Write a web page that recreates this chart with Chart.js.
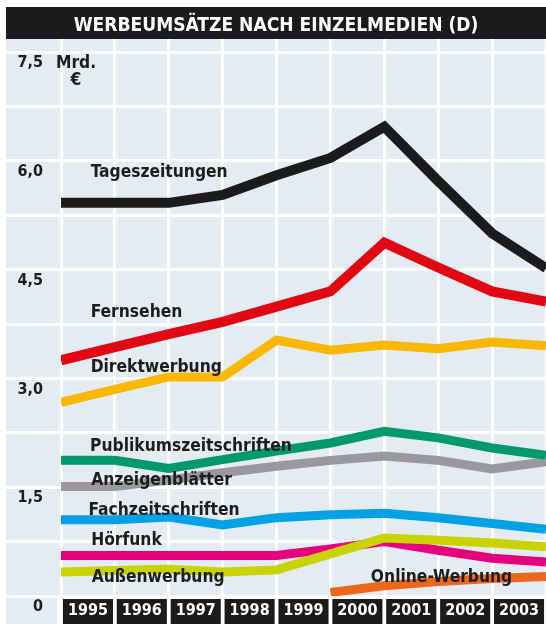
<!DOCTYPE html>
<html><head><meta charset="utf-8">
<script src="https://cdn.jsdelivr.net/npm/chart.js@4.4.1/dist/chart.umd.min.js"></script>
<style>html,body{margin:0;padding:0;background:#fff;}canvas{display:block;}</style>
</head><body>
<canvas id="c" width="546" height="624"></canvas>
<script>
// ---------- data ----------
const chartTitle = 'WERBEUMSÄTZE NACH EINZELMEDIEN (D)';
const unitLabel = ['Mrd.', '€'];
const xLabels = ['1995','1996','1997','1998','1999','2000','2001','2002','2003'];
const yTickLabels = ['0','1,5','3,0','4,5','6,0','7,5'];
const pointIndex = [0,1,2,3,4,5,6,7,8,9];

const tageszeitungen      = [5.42, 5.42, 5.42, 5.53, 5.80, 6.04, 6.47, 5.72, 5.00, 4.52];
const fernsehen           = [3.25, 3.43, 3.61, 3.78, 3.99, 4.20, 4.87, 4.53, 4.20, 4.06];
const direktwerbung       = [2.67, 2.85, 3.02, 3.02, 3.53, 3.39, 3.46, 3.41, 3.50, 3.45];
const publikumszeitschr   = [1.87, 1.87, 1.76, 1.88, 2.00, 2.11, 2.27, 2.18, 2.04, 1.94];
const anzeigenblaetter    = [1.51, 1.51, 1.60, 1.70, 1.79, 1.87, 1.93, 1.87, 1.75, 1.85];
const fachzeitschriften   = [1.05, 1.05, 1.09, 0.98, 1.08, 1.12, 1.14, 1.08, 1.00, 0.92];
const aussenwerbung       = [0.33, 0.35, 0.37, 0.33, 0.36, 0.58, 0.80, 0.77, 0.73, 0.68];
const hoerfunk            = [0.56, 0.56, 0.56, 0.56, 0.56, 0.65, 0.75, 0.63, 0.52, 0.47];
const onlineWerbung       = [null, null, null, null, null, 0.05, 0.14, 0.20, 0.24, 0.27];

const seriesNames = ['Tageszeitungen','Fernsehen','Direktwerbung','Publikumszeitschriften',
  'Anzeigenblätter','Fachzeitschriften','Außenwerbung','Hörfunk','Online-Werbung'];
const seriesValues = [tageszeitungen, fernsehen, direktwerbung, publikumszeitschr,
  anzeigenblaetter, fachzeitschriften, aussenwerbung, hoerfunk, onlineWerbung];

// ---------- styles ----------
const seriesColors = ['#1b1b1e','#e30613','#fbb800','#009a6d','#99989d','#00a2e6','#c8d300','#e5007d','#ec671c'];
const seriesWidths = [10,10,9,9,9,9,9,9,9];
// label anchors in data units: [x index, y value of text baseline]
const labelAnchors = [[0.55,5.78],[0.55,3.85],[0.55,3.09],[0.54,2.00],[0.56,1.53],[0.51,1.12],[0.57,0.19],[0.56,0.70],[5.75,0.19]];

const BG = '#e4ebf2';
const TXT = '#1d1d1b';

function hasFont(name){
  const c = document.createElement('canvas').getContext('2d');
  const s = 'abcdefghijklmnopqrstuvwxyzABCDEFGH0123456789';
  c.font = '40px monospace'; const w0 = c.measureText(s).width;
  c.font = '40px "' + name + '", monospace'; return Math.abs(c.measureText(s).width - w0) > 0.5;
}
const narrowFam = hasFont('Liberation Sans Narrow') ? '"Liberation Sans Narrow"' :
                  (hasFont('DejaVu Sans Condensed') ? '"DejaVu Sans Condensed"' : '"DejaVu Sans"');
const condFam = hasFont('DejaVu Sans Condensed') ? '"DejaVu Sans Condensed"' : '"DejaVu Sans"';
const NARROW = narrowFam + ', "DejaVu Sans Condensed", sans-serif';
const COND = condFam + ', "DejaVu Sans", sans-serif';

function fitSize(text, fam, target, maxSize){
  const c = document.createElement('canvas').getContext('2d');
  c.font = 'bold 40px ' + fam;
  return Math.min(maxSize, 40 * target / c.measureText(text).width);
}
const labelSize = fitSize('Publikumszeitschriften', NARROW, 202, 19.5);
const titleSize = fitSize(chartTitle, NARROW, 405, 23);
const titleLH = titleSize * 1.2;
const titlePadTop = 25.9 - 7 - titleLH / 2;
const titlePadBottom = 32 - titleLH - titlePadTop;

const bgPlugin = {
  id: 'bg',
  beforeDraw(chart){
    const ctx = chart.ctx;
    ctx.save();
    ctx.fillStyle = '#fff'; ctx.fillRect(0,0,chart.width,chart.height);
    const ca = chart.chartArea;
    ctx.fillStyle = BG;
    ctx.fillRect(6, 39, chart.width - 6, ca.bottom - 39);
    ctx.fillRect(6, ca.bottom, ca.left - 4 - 6, chart.height - ca.bottom);
    ctx.fillStyle = '#1b1b1e';
    ctx.fillRect(6, 7, chart.width - 6, 32);
    ctx.restore();
  }
};

const labelPlugin = {
  id: 'seriesLabels',
  afterDatasetsDraw(chart){
    const ctx = chart.ctx, xs = chart.scales.x, ys = chart.scales.y;
    ctx.save();
    ctx.fillStyle = TXT;
    ctx.textBaseline = 'alphabetic';
    ctx.textAlign = 'left';
    ctx.font = 'bold ' + labelSize.toFixed(2) + 'px ' + NARROW;
    seriesNames.forEach((n, i) => {
      const a = labelAnchors[i];
      ctx.fillText(n, xs.getPixelForValue(a[0]), ys.getPixelForValue(a[1]));
    });
    // unit label
    ctx.textAlign = 'center';
    ctx.font = 'bold ' + labelSize.toFixed(2) + 'px ' + NARROW;
    const ux = xs.getPixelForValue(0) + 15;
    const top = ys.getPixelForValue(7.5);
    ctx.fillText(unitLabel[0], ux, top + 16);
    ctx.fillText(unitLabel[1], ux, top + 33);
    ctx.restore();
  }
};

const datasets = seriesNames.map((n, i) => ({
  label: n,
  data: pointIndex.map((x, k) => ({x: x, y: seriesValues[i][k]})).filter(p => p.y !== null),
  borderColor: seriesColors[i],
  backgroundColor: seriesColors[i],
  borderWidth: seriesWidths[i],
  borderJoinStyle: 'miter',
  borderCapStyle: 'butt',
  pointRadius: 0,
  tension: 0,
  fill: false,
  xAxisID: 'x',
  yAxisID: 'y'
}));

new Chart(document.getElementById('c'), {
  type: 'line',
  data: { datasets },
  plugins: [bgPlugin, labelPlugin],
  options: {
    responsive: false,
    animation: false,
    devicePixelRatio: 1,
    events: [],
    layout: { padding: { left: 6, top: 7, right: 0, bottom: 0 } },
    plugins: {
      legend: { display: false },
      tooltip: { enabled: false },
      title: {
        display: true, text: chartTitle, color: '#ffffff',
        font: { family: NARROW, size: titleSize, weight: 'bold', lineHeight: 1.2 },
        padding: { top: titlePadTop, bottom: titlePadBottom }
      }
    },
    scales: {
      x: {
        type: 'linear', position: 'top', min: 0, max: 9,
        ticks: { display: false, stepSize: 1 },
        grid: { color: '#ffffff', lineWidth: 3, drawTicks: true, tickLength: 13, tickColor: '#ffffff', tickWidth: 3 },
        border: { display: false }
      },
      x2: {
        type: 'category', position: 'bottom', labels: xLabels, offset: true,
        grid: { display: false, drawTicks: false },
        border: { display: false },
        ticks: {
          color: '#ffffff', padding: 5.4, maxRotation: 0, autoSkip: false,
          font: { family: COND, size: 16, weight: 'bold', lineHeight: 1.2 },
          showLabelBackdrop: true, backdropColor: '#1b1b1e',
          backdropPadding: { top: 2.4, bottom: 6, left: 5, right: 5 }
        },
        afterFit(s){ s.height = 28; }
      },
      y: {
        type: 'linear', position: 'left', min: 0, max: 7.5,
        ticks: {
          stepSize: 0.75, color: TXT, padding: -37, labelOffset: 11,
          font: { family: COND, size: 16, weight: 'bold' },
          callback(v){ const k = Math.round(v / 0.75); return k % 2 === 0 ? yTickLabels[k / 2] : ''; }
        },
        grid: { color: '#ffffff', lineWidth: 3, drawTicks: true, tickLength: 55, tickColor: '#ffffff', tickWidth: 3 },
        border: { display: false },
        afterFit(s){ s.width = 55; }
      }
    }
  }
});
</script>
</body></html>
